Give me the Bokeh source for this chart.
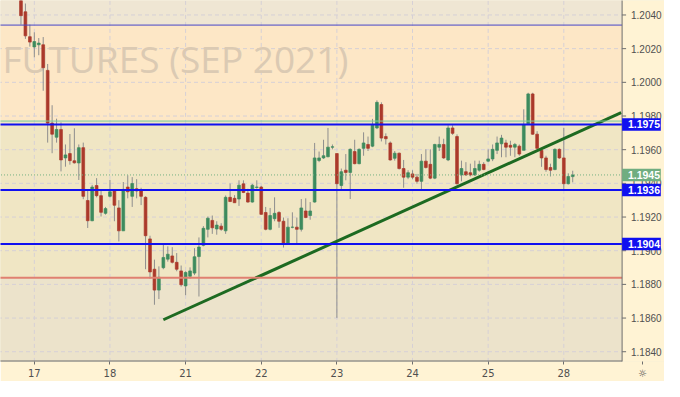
from bokeh.plotting import figure
from bokeh.models import ColumnDataSource, FixedTicker, Range1d
from bokeh.core.properties import value
from bokeh.embed import file_html
from bokeh.resources import INLINE

# ---- candle data (one bar per index) ----
opens = [
    1.20503, 1.20419, 1.20271, 1.20210, 1.20223, 1.20223, 1.20071, 1.19758, 1.19674, 1.19720,
    1.19551, 1.19577, 1.19534, 1.19521, 1.19612, 1.19298, 1.19178, 1.19387, 1.19327, 1.19222,
    1.19323, 1.19359, 1.19254, 1.19118, 1.19378, 1.19323, 1.19368, 1.19355, 1.19317, 1.19070,
    1.18890, 1.18766, 1.18899, 1.18950, 1.18969, 1.18931, 1.18880, 1.18791, 1.18848, 1.18867,
    1.18965, 1.19032, 1.19127, 1.19180, 1.19129, 1.19146, 1.19118, 1.19317, 1.19311, 1.19307,
    1.19397, 1.19342, 1.19289, 1.19376, 1.19378, 1.19227, 1.19127, 1.19190, 1.19227, 1.19175,
    1.19038, 1.19139, 1.19140, 1.19127, 1.19236, 1.19209, 1.19289, 1.19536, 1.19551, 1.19558,
    1.19615, 1.19577, 1.19387, 1.19478, 1.19465, 1.19589, 1.19517, 1.19608, 1.19631, 1.19621,
    1.19729, 1.19868, 1.19678, 1.19640, 1.19549, 1.19579, 1.19488, 1.19437, 1.19456, 1.19437,
    1.19412, 1.19532, 1.19513, 1.19431, 1.19615, 1.19631, 1.19539, 1.19729, 1.19678, 1.19450,
    1.19469, 1.19463, 1.19450, 1.19478, 1.19513, 1.19532, 1.19545, 1.19596, 1.19635, 1.19640,
    1.19626, 1.19615, 1.19621, 1.19596, 1.19754, 1.19931, 1.19692, 1.19596, 1.19551, 1.19494,
    1.19482, 1.19602, 1.19551, 1.19398, 1.19440]
highs = [
    1.20543, 1.20468, 1.20343, 1.20297, 1.20263, 1.20269, 1.20109, 1.19864, 1.19784, 1.19762,
    1.19631, 1.19693, 1.19727, 1.19631, 1.19642, 1.19357, 1.19391, 1.19431, 1.19357, 1.19260,
    1.19420, 1.19363, 1.19300, 1.19408, 1.19448, 1.19437, 1.19425, 1.19374, 1.19323, 1.19089,
    1.18947, 1.18907, 1.19043, 1.19026, 1.19021, 1.18986, 1.18912, 1.18878, 1.18901, 1.19015,
    1.19079, 1.19146, 1.19203, 1.19209, 1.19175, 1.19163, 1.19328, 1.19399, 1.19330, 1.19418,
    1.19418, 1.19368, 1.19397, 1.19418, 1.19385, 1.19260, 1.19254, 1.19317, 1.19235, 1.19197,
    1.19193, 1.19228, 1.19197, 1.19307, 1.19311, 1.19289, 1.19640, 1.19589, 1.19659, 1.19729,
    1.19631, 1.19577, 1.19488, 1.19574, 1.19608, 1.19659, 1.19608, 1.19703, 1.19678, 1.19783,
    1.19893, 1.19881, 1.19697, 1.19649, 1.19592, 1.19583, 1.19539, 1.19478, 1.19478, 1.19456,
    1.19574, 1.19602, 1.19602, 1.19635, 1.19678, 1.19665, 1.19745, 1.19745, 1.19691, 1.19535,
    1.19526, 1.19517, 1.19535, 1.19535, 1.19526, 1.19602, 1.19631, 1.19678, 1.19688, 1.19659,
    1.19653, 1.19640, 1.19631, 1.19840, 1.19938, 1.19938, 1.19710, 1.19608, 1.19564, 1.19517,
    1.19608, 1.19608, 1.19729, 1.19460, 1.19475]
lows = [
    1.20343, 1.20258, 1.20212, 1.20149, 1.20161, 1.19950, 1.19642, 1.19579, 1.19642, 1.19471,
    1.19499, 1.19511, 1.19517, 1.19420, 1.19306, 1.19135, 1.19175, 1.19317, 1.19203, 1.19214,
    1.19317, 1.19175, 1.19055, 1.19118, 1.19311, 1.19260, 1.19311, 1.19271, 1.18890, 1.18833,
    1.18679, 1.18713, 1.18890, 1.18935, 1.18924, 1.18878, 1.18787, 1.18736, 1.18833, 1.18855,
    1.18728, 1.19026, 1.19079, 1.19100, 1.19095, 1.19118, 1.19100, 1.19289, 1.19285, 1.19266,
    1.19342, 1.19285, 1.19285, 1.19368, 1.19213, 1.19121, 1.19121, 1.19175, 1.19136, 1.19019,
    1.19038, 1.19133, 1.19042, 1.19114, 1.19193, 1.19184, 1.19285, 1.19526, 1.19545, 1.19555,
    1.19602, 1.18601, 1.19361, 1.19418, 1.19307, 1.19513, 1.19513, 1.19564, 1.19592, 1.19615,
    1.19722, 1.19649, 1.19631, 1.19535, 1.19535, 1.19482, 1.19374, 1.19425, 1.19425, 1.19398,
    1.19361, 1.19488, 1.19425, 1.19425, 1.19592, 1.19545, 1.19532, 1.19688, 1.19393, 1.19412,
    1.19444, 1.19441, 1.19444, 1.19469, 1.19478, 1.19526, 1.19532, 1.19574, 1.19555, 1.19555,
    1.19564, 1.19555, 1.19564, 1.19596, 1.19748, 1.19688, 1.19602, 1.19498, 1.19469, 1.19441,
    1.19478, 1.19545, 1.19361, 1.19393, 1.19406]
closes = [
    1.20396, 1.20276, 1.20239, 1.20242, 1.20233, 1.20087, 1.19758, 1.19692, 1.19720, 1.19539,
    1.19569, 1.19535, 1.19522, 1.19612, 1.19323, 1.19178, 1.19378, 1.19327, 1.19228, 1.19250,
    1.19350, 1.19270, 1.19118, 1.19364, 1.19350, 1.19399, 1.19355, 1.19323, 1.19089, 1.18874,
    1.18766, 1.18842, 1.18960, 1.18979, 1.18931, 1.18890, 1.18798, 1.18871, 1.18880, 1.18964,
    1.19022, 1.19133, 1.19193, 1.19136, 1.19152, 1.19127, 1.19317, 1.19292, 1.19285, 1.19389,
    1.19346, 1.19289, 1.19389, 1.19378, 1.19216, 1.19127, 1.19209, 1.19222, 1.19175, 1.19038,
    1.19140, 1.19140, 1.19127, 1.19254, 1.19197, 1.19236, 1.19551, 1.19551, 1.19564, 1.19615,
    1.19617, 1.19398, 1.19469, 1.19465, 1.19602, 1.19517, 1.19602, 1.19640, 1.19608, 1.19745,
    1.19881, 1.19669, 1.19665, 1.19539, 1.19579, 1.19488, 1.19437, 1.19463, 1.19437, 1.19412,
    1.19532, 1.19494, 1.19431, 1.19631, 1.19631, 1.19551, 1.19729, 1.19697, 1.19398, 1.19488,
    1.19450, 1.19450, 1.19488, 1.19513, 1.19482, 1.19545, 1.19602, 1.19640, 1.19669, 1.19615,
    1.19615, 1.19631, 1.19574, 1.19748, 1.19931, 1.19692, 1.19608, 1.19551, 1.19482, 1.19478,
    1.19602, 1.19551, 1.19398, 1.19441, 1.19450]

day_ticks = [3, 20, 37, 54, 71, 88, 105, 122]
day_labels = ["17", "18", "21", "22", "23", "24", "25", "28"]
price_ticks = [1.1840, 1.1860, 1.1880, 1.1900, 1.1920, 1.1940, 1.1960,
               1.1980, 1.2000, 1.2020, 1.2040]

key_levels = [1.1975, 1.1936, 1.1904]
last_price = 1.1945
upper_line = 1.2034
green_line = 1.1977
red_line = 1.1884
trend_x = [32.0, 134.9]
trend_y = [1.1859, 1.1982]
title_text = "FUTURES (SEP 2021)"
settings_icon = "\u263c"

# ---- build ----
n = min(len(opens), len(highs), len(lows), len(closes))
xs = list(range(n))
up = [closes[i] >= opens[i] for i in range(n)]
src = ColumnDataSource(dict(
    x=xs, high=highs[:n], low=lows[:n],
    top=[max(opens[i], closes[i]) for i in range(n)],
    bottom=[min(opens[i], closes[i]) for i in range(n)],
    color=["#3d8b5e" if u else "#ab392b" for u in up]))

X0, X1, XMAX = -4.6, 135.1, 144.63   # chart pane ends at X1, price scale pane to XMAX
Y0, Y1 = 1.18342, 1.20486
icon_x = 139.7

p = figure(width=664, height=381, output_backend="svg", toolbar_location=None,
           x_range=Range1d(X0, XMAX), y_range=Range1d(Y0, Y1), y_axis_location=None,
           min_border_left=0, min_border_top=0, min_border_right=0, min_border_bottom=20)
p.outline_line_color = None
p.border_fill_color = "#FFF3D4"
p.background_fill_color = "#F0E6C4"
p.xgrid.visible = False
p.ygrid.visible = False

# background bands of the chart pane
band_bottoms = [upper_line, green_line, red_line, Y0 - 0.01]
band_tops = [Y1 + 0.01, upper_line, green_line, red_line]
band_colors = ["#EFE6D3", "#FDE7C6", "#F0E6C4", "#ECE3CB"]
p.quad(left=X0 - 10, right=X1, bottom=band_bottoms, top=band_tops,
       fill_color=band_colors, line_color=None)
# price-scale pane
p.quad(left=[X1], right=[XMAX + 10], bottom=[Y0 - 0.01], top=[Y1 + 0.01],
       fill_color="#FFF3D4", line_color=None)

# dashed grid
grid_col = "#d6d0d6"
p.segment(x0=day_ticks, y0=Y0 - 0.01, x1=day_ticks, y1=Y1 + 0.01,
          line_color=grid_col, line_dash="4 3", line_width=1)
p.segment(x0=X0 - 10, y0=price_ticks, x1=X1, y1=price_ticks,
          line_color=grid_col, line_dash="4 3", line_width=1)

# watermark
wm_src = ColumnDataSource(dict(x=[-4.17], y=[1.20144], t=[title_text]))
p.text(x="x", y="y", text="t", source=wm_src, text_font=value("Open Sans"),
       text_font_size="37px", text_color="#dbcab3", text_baseline="alphabetic")

# candles
p.segment(x0="x", y0="low", x1="x", y1="high", source=src, line_color="#8e8e8e", line_width=1)
p.vbar(x="x", width=0.62, top="top", bottom="bottom", source=src,
       fill_color="color", line_color="color", line_width=0.7)

# trend line
p.line(trend_x, trend_y, line_color="#1d6a21", line_width=3)

# horizontal levels (chart pane only)
p.segment(x0=X0 - 10, y0=[upper_line], x1=X1, y1=[upper_line], line_color="#4646c8", line_width=1)
p.segment(x0=X0 - 10, y0=[green_line], x1=X1, y1=[green_line], line_color="#78c99c", line_width=1)
p.segment(x0=X0 - 10, y0=[red_line], x1=X1, y1=[red_line], line_color="#e08070", line_width=2)
p.segment(x0=X0 - 10, y0=[last_price], x1=X1, y1=[last_price], line_color="#74b083",
          line_dash="1 2", line_width=1)
p.segment(x0=X0 - 10, y0=key_levels, x1=X1, y1=key_levels, line_color="#1010f0", line_width=2)

# price scale (right): axis line, ticks, labels
ax_col = "#6e6e6e"
p.segment(x0=[X1], y0=[Y0 - 0.01], x1=[X1], y1=[Y1 + 0.01], line_color=ax_col, line_width=1)
p.segment(x0=X1, y0=price_ticks, x1=X1 + 0.9, y1=price_ticks, line_color=ax_col, line_width=1)
p.text(x=X1 + 2.0, y=price_ticks, text=[f"{t:.4f}" for t in price_ticks],
       text_font=value("Liberation Sans"), text_font_size="10px",
       text_color="#505050", text_baseline="middle", text_align="left")
# bottom edge of the chart pane
p.segment(x0=[X0 - 10], y0=[Y0], x1=[X1], y1=[Y0], line_color=ax_col, line_width=2)

# price tags
tag_levels = key_levels + [last_price]
tag_colors = ["#1010f0"] * len(key_levels) + ["#70ad80"]
half_h = 0.00037
p.quad(left=X1, right=X1 + 8.7, bottom=[v - half_h for v in tag_levels],
       top=[v + half_h for v in tag_levels], fill_color=tag_colors, line_color=None)
p.text(x=X1 + 1.3, y=tag_levels, text=[f"{v:.4f}" for v in tag_levels],
       text_font=value("Liberation Sans"), text_font_size="10.5px", text_font_style="bold",
       text_color="white", text_baseline="middle", text_align="left")

# bottom (time) axis, with the settings icon under the price scale
xa = p.xaxis[0]
xa.ticker = FixedTicker(ticks=day_ticks + [icon_x])
overrides = {t: l for t, l in zip(day_ticks, day_labels)}
overrides[icon_x] = settings_icon
xa.major_label_overrides = overrides
xa.axis_line_color = None
xa.major_tick_line_color = ax_col
xa.minor_tick_line_color = None
xa.major_tick_in = 0
xa.major_tick_out = 3
xa.major_label_standoff = 3
xa.major_label_text_font = "DejaVu Sans"
xa.major_label_text_font_size = "10px"
xa.major_label_text_color = "#505050"

open("out.html", "w").write(file_html(p, INLINE))
